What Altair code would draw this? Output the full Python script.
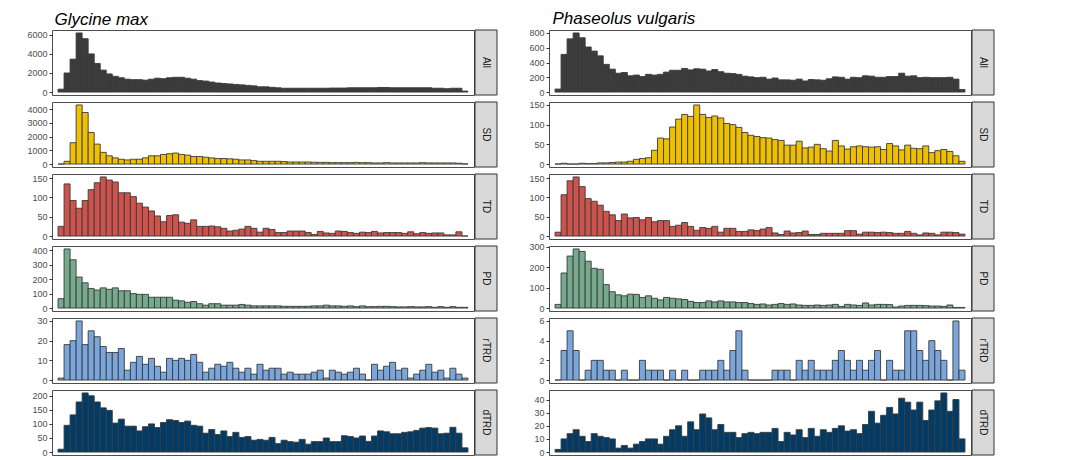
import altair as alt
import pandas as pd

categories = ["All", "SD", "TD", "PD", "rTRD", "dTRD"]
colors = ["#3B3B3B", "#EFC000", "#CD534C", "#75AA8C", "#7AA6DC", "#003C67"]

# Glycine max
gm_all = [300, 2000, 3450, 6200, 5600, 4000, 3000, 2300, 1900, 1650,
          1500, 1350, 1300, 1300, 1250, 1350, 1450, 1400, 1500, 1550,
          1550, 1450, 1350, 1200, 1150, 1050, 950, 900, 850, 800,
          750, 700, 650, 550, 550, 500, 450, 400, 400, 400,
          400, 400, 400, 400, 400, 420, 420, 420, 450, 450,
          450, 450, 450, 480, 480, 450, 450, 450, 450, 450,
          450, 450, 400, 400, 350, 400, 400, 100]
gm_sd = [0, 200, 1550, 4300, 3750, 2300, 1450, 850, 600, 450,
         350, 300, 350, 350, 450, 600, 600, 700, 750, 800,
         700, 650, 550, 550, 500, 450, 400, 400, 380, 350,
         300, 300, 250, 200, 200, 200, 200, 180, 150, 150,
         150, 150, 130, 120, 120, 100, 100, 100, 100, 120,
         100, 100, 80, 80, 100, 80, 80, 80, 80, 80,
         100, 80, 80, 80, 80, 80, 60, 10]
gm_td = [25, 135, 92, 72, 92, 120, 138, 153, 145, 140,
         112, 112, 102, 85, 75, 65, 52, 37, 53, 55,
         36, 33, 42, 25, 25, 26, 24, 20, 13, 15,
         18, 25, 20, 10, 20, 17, 9, 9, 13, 13,
         13, 9, 4, 12, 8, 7, 13, 12, 9, 7,
         10, 9, 12, 8, 9, 9, 9, 7, 11, 6,
         9, 7, 8, 8, 3, 3, 11, 0]
gm_pd = [65, 410, 335, 215, 175, 135, 125, 140, 130, 140,
         120, 120, 100, 95, 95, 75, 75, 75, 75, 55,
         50, 40, 45, 30, 20, 30, 30, 20, 20, 20,
         25, 20, 15, 15, 15, 15, 15, 12, 12, 12,
         12, 12, 15, 15, 20, 15, 15, 12, 15, 10,
         15, 10, 10, 12, 12, 10, 8, 8, 10, 8,
         8, 10, 5, 10, 5, 10, 5, 5]
gm_rtrd = [1, 18, 20, 30, 18, 25, 22, 17, 14, 14,
           16, 5, 9, 12, 8, 11, 7, 4, 11, 10,
           11, 10, 13, 9, 4, 6, 8, 7, 9, 6,
           4, 6, 3, 8, 5, 6, 6, 3, 4, 3,
           3, 3, 4, 5, 1, 5, 4, 3, 4, 6,
           3, 0, 8, 5, 7, 9, 5, 6, 1, 3,
           5, 8, 4, 5, 1, 6, 3, 1]
gm_dtrd = [10, 95, 132, 178, 210, 200, 178, 157, 148, 103,
           117, 92, 92, 75, 90, 100, 87, 105, 115, 112,
           105, 110, 95, 92, 67, 80, 62, 75, 55, 70,
           52, 55, 42, 45, 42, 52, 30, 42, 37, 35,
           45, 28, 37, 37, 50, 37, 37, 58, 55, 50,
           57, 38, 57, 75, 72, 65, 65, 70, 72, 77,
           85, 87, 85, 65, 67, 88, 67, 15]

# Phaseolus vulgaris
pv_all = [40, 510, 720, 800, 735, 610, 555, 490, 375, 310,
          255, 265, 220, 230, 210, 240, 230, 240, 270, 295,
          295, 320, 300, 315, 310, 285, 305, 275, 255, 250,
          240, 215, 205, 195, 200, 175, 190, 165, 165, 160,
          175, 150, 170, 165, 160, 180, 205, 200, 175, 200,
          195, 220, 215, 200, 200, 210, 210, 255, 215, 220,
          195, 200, 195, 195, 195, 200, 175, 35]
pv_sd = [0, 2, 0, 0, 2, 1, 1, 3, 3, 4,
         5, 5, 7, 12, 14, 16, 35, 66, 64, 94,
         114, 126, 121, 150, 126, 118, 122, 117, 103, 100,
         93, 80, 73, 70, 67, 66, 62, 60, 48, 48,
         58, 41, 43, 50, 39, 33, 60, 46, 38, 44,
         46, 44, 43, 44, 37, 52, 46, 36, 48, 40,
         39, 46, 29, 34, 37, 32, 21, 7]
pv_td = [10, 107, 143, 153, 128, 97, 90, 80, 64, 55,
         40, 57, 47, 48, 42, 48, 37, 40, 40, 25,
         28, 35, 25, 15, 22, 20, 25, 10, 20, 20,
         12, 12, 16, 14, 18, 22, 8, 4, 13, 8,
         9, 13, 4, 4, 7, 7, 7, 7, 14, 14,
         5, 10, 10, 9, 10, 9, 7, 7, 12, 7,
         3, 8, 7, 3, 10, 10, 9, 5]
pv_pd = [18, 172, 255, 290, 278, 230, 195, 190, 115, 80,
         65, 60, 68, 67, 52, 60, 48, 40, 52, 48,
         45, 42, 33, 27, 27, 35, 30, 35, 30, 30,
         27, 27, 22, 18, 20, 15, 18, 22, 18, 20,
         15, 13, 13, 15, 13, 15, 18, 8, 18, 15,
         13, 25, 15, 18, 18, 17, 5, 10, 13, 13,
         13, 12, 10, 10, 8, 15, 3, 3]
pv_rtrd = [0, 3, 5, 3, 0, 1, 2, 2, 1, 1,
           0, 1, 0, 0, 2, 1, 1, 1, 0, 1,
           0, 1, 0, 0, 1, 1, 1, 2, 1, 3,
           5, 1, 0, 0, 0, 0, 1, 1, 1, 0,
           2, 1, 2, 1, 1, 1, 2, 3, 2, 1,
           2, 1, 2, 3, 0, 2, 1, 1, 5, 5,
           3, 2, 4, 3, 2, 0, 6, 1]
pv_dtrd = [2, 10, 14, 17, 12, 8, 14, 12, 11, 10,
           3, 5, 3, 6, 8, 10, 10, 6, 12, 17,
           20, 12, 23, 17, 29, 26, 17, 21, 15, 15,
           11, 14, 15, 14, 15, 15, 18, 8, 15, 13,
           17, 11, 18, 12, 17, 15, 18, 20, 16, 17,
           14, 21, 31, 22, 28, 34, 29, 41, 38, 32,
           38, 24, 32, 39, 45, 31, 40, 10]

gm_ticks = [[0, 2000, 4000, 6000], [0, 1000, 2000, 3000, 4000], [0, 50, 100, 150],
            [0, 100, 200, 300, 400], [0, 10, 20, 30], [0, 50, 100, 150, 200]]
pv_ticks = [[0, 200, 400, 600, 800], [0, 50, 100, 150], [0, 50, 100, 150],
            [0, 100, 200, 300], [0, 2, 4, 6], [0, 10, 20, 30, 40]]

FONT = "Liberation Sans"
W = 422
H = 65


def panel(values, color, label, ticks):
    df = pd.DataFrame({"bin": list(range(len(values))), "count": values})
    df["bin2"] = df["bin"] + 1
    ymax = max(values)
    dom = [-0.05 * ymax, 1.05 * ymax]
    bars = alt.Chart(df).mark_bar(
        fill=color, stroke="#3a3a3a", strokeWidth=0.9
    ).encode(
        x=alt.X("bin:Q", scale=alt.Scale(domain=[-1, 69], nice=False, zero=False), axis=None),
        x2="bin2:Q",
        y=alt.Y("count:Q", scale=alt.Scale(domain=dom, nice=False, zero=False),
                axis=alt.Axis(values=ticks, title=None, grid=False, domain=False,
                              format="d")),
        y2=alt.datum(0),
    )
    lab = pd.DataFrame({"label": [label]})
    strip = alt.Chart(lab).mark_rect(fill="#D9D9D9", stroke="#333333", strokeWidth=1).encode(
        x=alt.value(W + 1), x2=alt.value(W + 23), y=alt.value(0), y2=alt.value(H)
    )
    txt = alt.Chart(lab).mark_text(angle=90, fontSize=10, font=FONT, color="#1A1A1A").encode(
        x=alt.value(W + 12), y=alt.value(H / 2), text="label:N"
    )
    return alt.layer(bars, strip, txt).properties(width=W, height=H)


def column(title, series, ticks, dx):
    panels = [panel(v, c, lab, t) for v, c, lab, t in zip(series, colors, categories, ticks)]
    return alt.vconcat(*panels, spacing=7, bounds="flush").properties(
        title=alt.TitleParams(title, anchor="start", fontStyle="italic", fontSize=17,
                              font=FONT, fontWeight="normal", color="black",
                              offset=0, dx=dx)
    )


left = column("Glycine max", [gm_all, gm_sd, gm_td, gm_pd, gm_rtrd, gm_dtrd], gm_ticks, 28)
right = column("Phaseolus vulgaris", [pv_all, pv_sd, pv_td, pv_pd, pv_rtrd, pv_dtrd], pv_ticks, 24)

chart = alt.hconcat(left, right, spacing=30).configure_view(
    stroke="#4D4D4D", strokeWidth=1
).configure_axis(
    labelFont=FONT, labelFontSize=9, labelColor="#4D4D4D",
    tickColor="#333333", tickSize=3, labelPadding=2
).properties(padding={"left": 18, "top": 2, "right": 5, "bottom": 1})

chart.save("out.html", embed_options={"renderer": "svg", "actions": False})
